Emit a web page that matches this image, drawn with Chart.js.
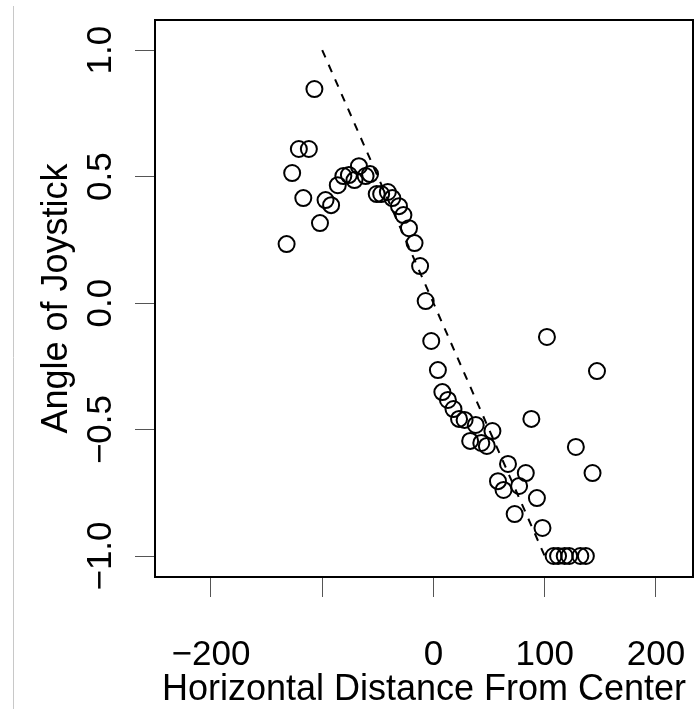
<!DOCTYPE html>
<html>
<head>
<meta charset="utf-8">
<script src="https://cdn.jsdelivr.net/npm/chart.js@4.4.1/dist/chart.umd.min.js"></script>
<style>
  html, body { margin: 0; padding: 0; background: #fff; }
</style>
</head>
<body>
<canvas id="joy-chart" width="696" height="709"></canvas>
<script>
// joystick angle vs horizontal distance
let xValues = [-132, -127, -121, -117, -112, -107, -102, -97, -92, -86,
               -81, -76, -71, -67, -61, -57, -51, -47, -41, -37,
               -31, -27, -22, -17, -12, -7, -2, 4, 8, 13,
               18, 23, 28, 33, 38, 43, 48, 53, 58, 63,
               67, 73, 77, 83, 88, 93, 98, 102, 108, 112,
               118, 122, 128, 132, 137, 143, 147];
let yValues = [0.233, 0.514, 0.609, 0.415, 0.609, 0.846, 0.316, 0.407, 0.387, 0.466,
               0.502, 0.506, 0.486, 0.541, 0.502, 0.51, 0.431, 0.431, 0.439, 0.415,
               0.383, 0.348, 0.296, 0.237, 0.146, 0.008, -0.150, -0.265, -0.352, -0.383,
               -0.419, -0.458, -0.462, -0.545, -0.482, -0.553, -0.565, -0.506, -0.704, -0.739,
               -0.636, -0.834, -0.723, -0.672, -0.458, -0.771, -0.889, -0.134, -1.0, -1.0,
               -1.0, -1.0, -0.569, -1.0, -1.0, -0.672, -0.269];
let lineX = [-100, 100];
let lineY = [1.0, -1.0];
let xTicks = [-200, -100, 0, 100, 200];
let xTickText = ['\u2212200', '', '0', '100', '200'];
let yTicks = [-1.0, -0.5, 0.0, 0.5, 1.0];
let yTickText = ['\u22121.0', '\u22120.5', '0.0', '0.5', '1.0'];

const FONT = '"Liberation Sans", Arial, Helvetica, sans-serif';

let points = [];
for (let i = 0; i < xValues.length; i++) {
    points.push({x: xValues[i], y: yValues[i]});
}
let linePts = [];
for (let i = 0; i < lineX.length; i++) {
    linePts.push({x: lineX[i], y: lineY[i]});
}

// box, y tick labels and the thin page edge line
const boxPlugin = {
    id: 'boxPlugin',
    beforeDraw(chart) {
        const c = chart.ctx;
        c.save();
        c.strokeStyle = '#c8c8c8';
        c.lineWidth = 1;
        c.beginPath();
        c.moveTo(13.5, 6);
        c.lineTo(13.5, 709);
        c.stroke();
        c.restore();
    },
    afterDraw(chart) {
        const c = chart.ctx;
        const a = chart.chartArea;
        c.save();
        c.strokeStyle = '#000';
        c.lineWidth = 2;
        c.strokeRect(a.left, a.top, a.right - a.left, a.bottom - a.top);
        const ys = chart.scales.y;
        c.fillStyle = '#000';
        c.font = '35px ' + FONT;
        c.textAlign = 'center';
        c.textBaseline = 'middle';
        for (let i = 0; i < yTicks.length; i++) {
            const py = ys.getPixelForValue(yTicks[i]);
            c.save();
            c.translate(101, py);
            c.rotate(-Math.PI / 2);
            c.fillText(yTickText[i], 0, 0);
            c.restore();
        }
        c.restore();
    }
};

let ctx = document.getElementById('joy-chart').getContext('2d');
let chart = new Chart(ctx, {
    type: 'scatter',
    data: {
        datasets: [{
            type: 'line',
            data: linePts,
            borderColor: '#000',
            borderWidth: 2,
            borderDash: [8, 8],
            pointRadius: 0,
            fill: false
        }, {
            data: points,
            pointStyle: 'circle',
            pointRadius: 8,
            pointBorderWidth: 2,
            borderColor: '#000',
            backgroundColor: 'rgba(0,0,0,0)'
        }]
    },
    options: {
        responsive: false,
        animation: false,
        layout: { autoPadding: false, padding: { top: 20, right: 3, left: 0, bottom: 0 } },
        plugins: { legend: { display: false }, tooltip: { enabled: false } },
        scales: {
            x: {
                type: 'linear',
                min: -250.3,
                max: 233.3,
                afterFit: function (s) { s.height = 132; s.paddingLeft = 0; s.paddingRight = 0; },
                afterBuildTicks: function (s) { s.ticks = xTicks.map(v => ({value: v})); },
                grid: { drawOnChartArea: false, drawTicks: true, tickLength: 20, color: '#555', lineWidth: 1 },
                border: { display: false },
                ticks: {
                    padding: 37,
                    color: '#000',
                    font: { family: FONT, size: 35 },
                    maxRotation: 0,
                    autoSkip: false,
                    callback: function (v) {
                        let k = xTicks.indexOf(v);
                        return k >= 0 ? xTickText[k] : '';
                    }
                },
                title: {
                    display: true,
                    text: 'Horizontal Distance From Center',
                    color: '#000',
                    font: { family: FONT, size: 36 },
                    padding: { top: 0, bottom: -3 }
                }
            },
            y: {
                type: 'linear',
                min: -1.083,
                max: 1.119,
                afterFit: function (s) { s.width = 155; s.paddingTop = 0; s.paddingBottom = 0; },
                afterBuildTicks: function (s) { s.ticks = yTicks.map(v => ({value: v})); },
                grid: { drawOnChartArea: false, drawTicks: true, tickLength: 20, color: '#555', lineWidth: 1 },
                border: { display: false },
                ticks: { display: false },
                title: {
                    display: true,
                    text: 'Angle of Joystick',
                    color: '#000',
                    font: { family: FONT, size: 36 },
                    padding: { top: 35, bottom: 0 }
                }
            }
        }
    },
    plugins: [boxPlugin]
});
</script>
</body>
</html>
